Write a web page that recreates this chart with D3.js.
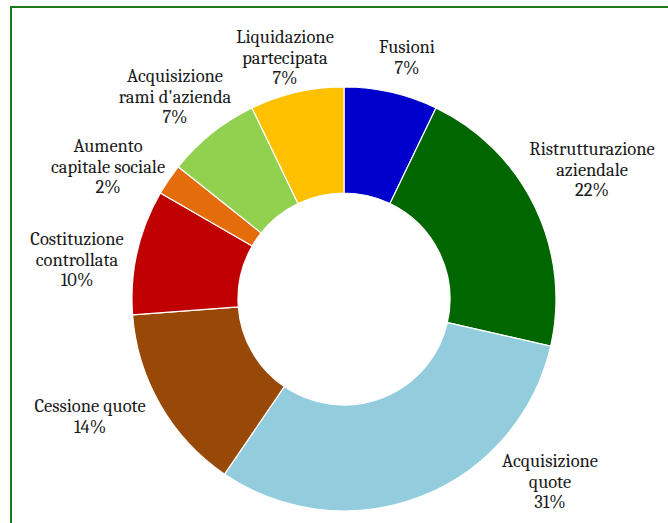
<!DOCTYPE html>
<html>
<head>
<meta charset="utf-8">
<script src="https://cdn.jsdelivr.net/npm/d3@7"></script>
<style>
  html, body { margin: 0; padding: 0; background: #fff; }
  svg { display: block; }
</style>
</head>
<body>
<svg id="chart"></svg>
<script>
// operation types (clockwise from 12 o'clock)
var categories = [
  ["Fusioni"],
  ["Ristrutturazione", "aziendale"],
  ["Acquisizione", "quote"],
  ["Cessione quote"],
  ["Costituzione", "controllata"],
  ["Aumento", "capitale sociale"],
  ["Acquisizione", "rami d'azienda"],
  ["Liquidazione", "partecipata"]
];
var counts = [3, 9, 13, 6, 4, 1, 3, 3];
var percentLabels = ["7%", "22%", "31%", "14%", "10%", "2%", "7%", "7%"];
var colors = ["#0000cc", "#006600", "#93cddd", "#984807", "#c00000", "#e46c0a", "#92d050", "#ffc000"];

// label anchors: offset of first baseline from the donut centre
var labelOffsets = [[63, -246], [248, -144], [206, 168], [-254, 113], [-267, -54], [-236, -147], [-169, -217], [-59, -256]];

document.addEventListener("DOMContentLoaded", function() {
  var width = 668, height = 523;
  var cx = 344, cy = 299;
  var outer = 212, inner = 106;
  var lineHeight = 20.7;

  var svg = d3.select("#chart")
    .attr("width", width)
    .attr("height", height);

  // chart area border
  svg.append("rect")
    .attr("x", 11)
    .attr("y", 7)
    .attr("width", width + 20)
    .attr("height", height + 20)
    .attr("fill", "none")
    .attr("stroke", "#1b7a1b")
    .attr("stroke-width", 2);

  var data = counts.map(function(c, i) {
    return { value: c, name: categories[i], pct: percentLabels[i], color: colors[i], off: labelOffsets[i] };
  });

  var pie = d3.pie()
    .value(d => d.value)
    .sort(null);

  var arc = d3.arc()
    .innerRadius(inner)
    .outerRadius(outer);

  var g = svg.append("g")
    .attr("transform", "translate(" + cx + "," + cy + ")");

  g.selectAll("path")
    .data(pie(data))
    .enter()
    .append("path")
      .attr("d", arc)
      .attr("fill", d => d.data.color)
      .attr("stroke", "#fff")
      .attr("stroke-width", 1.2);

  var labels = g.selectAll("text")
    .data(data)
    .enter()
    .append("text")
      .style("font-family", "'Cambria'")
      .style("font-size", "18.5px")
      .attr("fill", "#1a1a1a")
      .attr("text-anchor", "middle")
      .attr("x", d => d.off[0])
      .attr("y", d => d.off[1]);

  labels.each(function(d) {
    var t = d3.select(this);
    d.name.concat([d.pct]).forEach(function(line, i) {
      t.append("tspan")
        .attr("x", d.off[0])
        .attr("y", d.off[1] + i * lineHeight)
        .text(line);
    });
  });
});
</script>
</body>
</html>
